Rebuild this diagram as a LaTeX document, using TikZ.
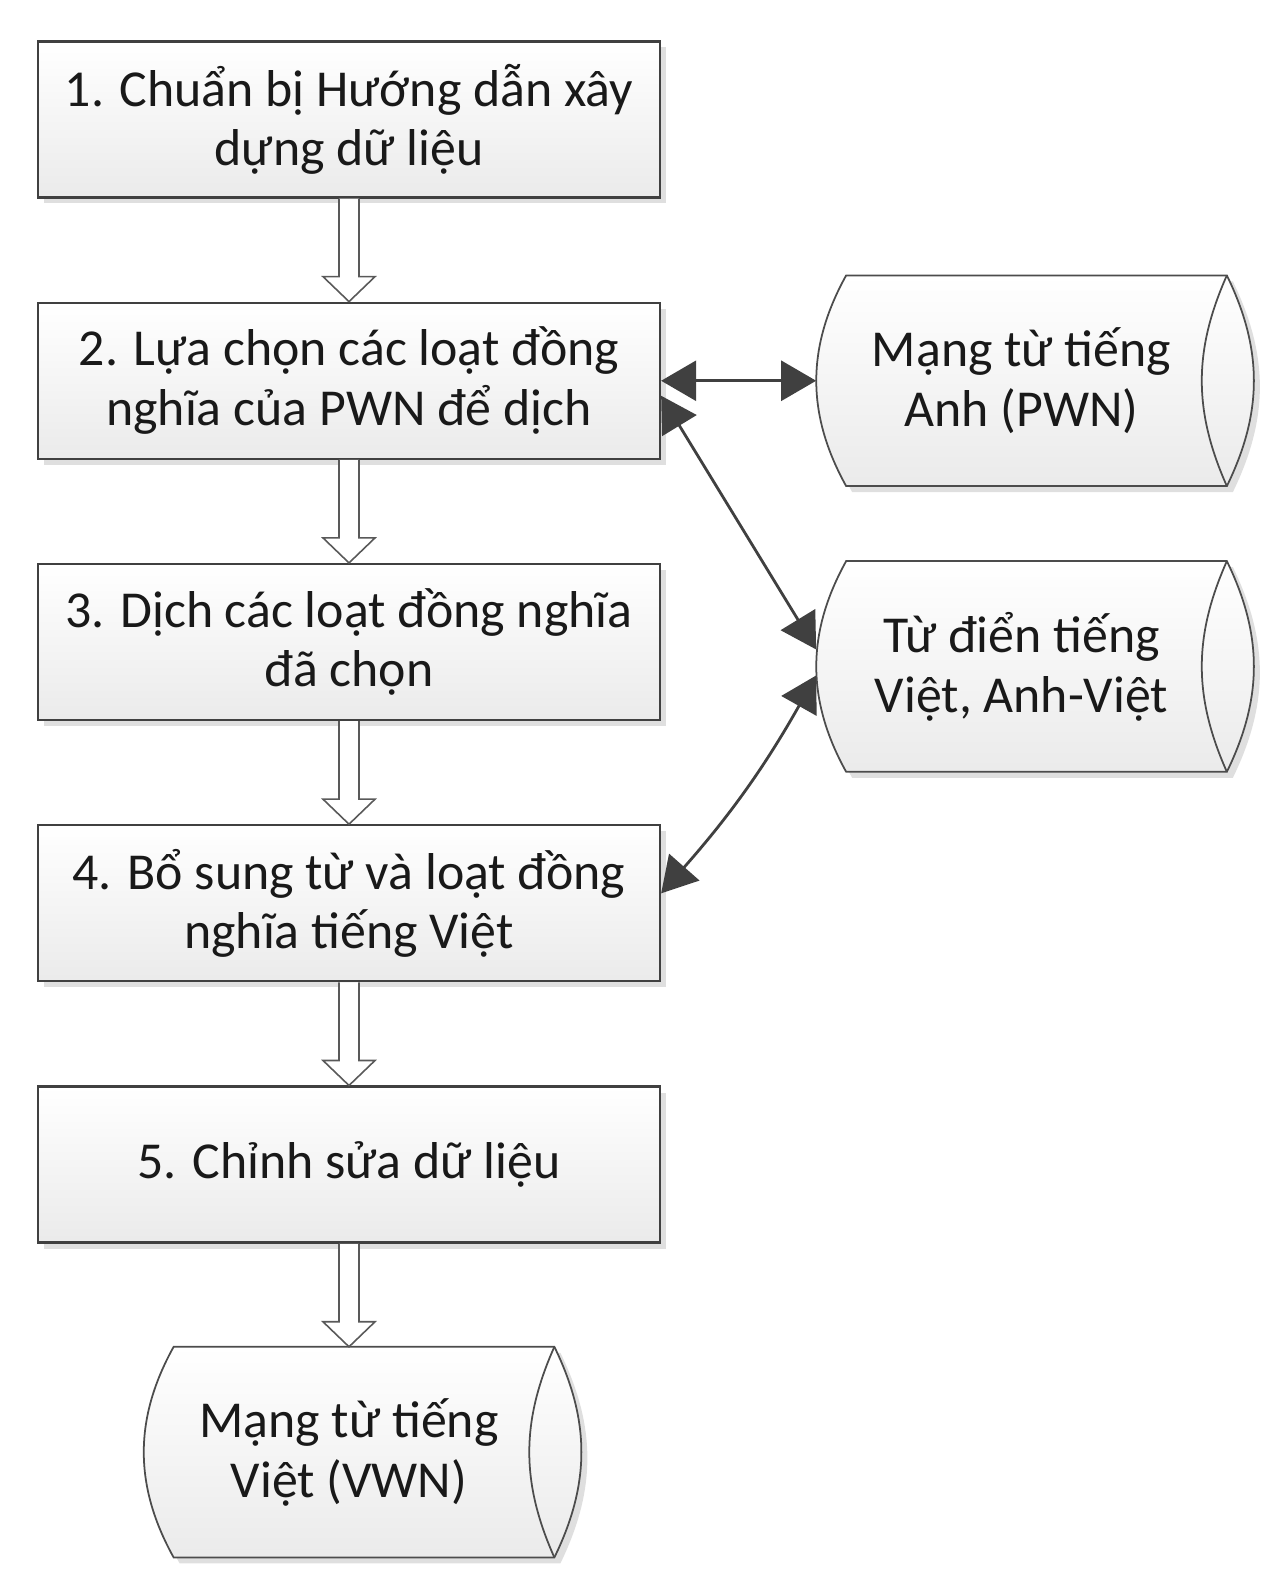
\documentclass[tikz,border=0pt]{standalone}
\usepackage{fontspec}
\setmainfont{Carlito}
\usetikzlibrary{positioning,shadows,arrows.meta,calc,backgrounds}

\tikzset{
  stepbox/.style={draw=black!75, line width=1.3pt,
    top color=white, bottom color=black!8,
    minimum width=12.44cm, minimum height=3.12cm,
    align=center, text=black!90,
    font=\fontsize{29.5}{34}\selectfont,
    drop shadow={shadow xshift=0.12cm, shadow yshift=-0.12cm,
                 fill=black!25, opacity=0.5}},
  store/.style={minimum width=8.2cm, minimum height=4.2cm,
    align=center, text=black!90,
    font=\fontsize{29.5}{34}\selectfont},
  storeline/.style={draw=black!70, line width=1pt},
  hollow/.style={draw=black!65, line width=0.9pt, fill=white},
  link/.style={draw=black!75, line width=1.6pt,
    {Triangle[length=0.7cm,width=0.8cm]}-{Triangle[length=0.7cm,width=0.8cm]}}
}

% hollow block arrow between two steps
\newcommand{\flowarrow}[2]{%
  \draw[hollow] let \p1=(#1.south), \p2=(#2.north) in
    (\x1-0.2cm,\y1) -- (\x1-0.2cm,\y2+0.5cm) -- (\x1-0.52cm,\y2+0.5cm)
    -- (\x1,\y2) -- (\x1+0.52cm,\y2+0.5cm) -- (\x1+0.2cm,\y2+0.5cm)
    -- (\x1+0.2cm,\y1);}

% stored data outline round a store node
\newcommand{\storage}[1]{%
  \begin{scope}[on background layer]
    \draw[storeline, top color=white, bottom color=black!8,
          drop shadow={shadow xshift=0.12cm, shadow yshift=-0.12cm,
                       fill=black!25, opacity=0.5}]
      ([xshift=0.6cm]#1.north west) to[bend right=29] ([xshift=0.6cm]#1.south west)
      -- (#1.south east) to[bend right=26] (#1.north east) -- cycle;
    \draw[storeline] (#1.north east) to[bend right=24] (#1.south east);
  \end{scope}}

\begin{document}
\begin{tikzpicture}
  \useasboundingbox (0,0) rectangle (25.56,31.56);

  % steps
  \node[stepbox] (b1) at (6.98,29.17) {1. Chuẩn bị Hướng dẫn xây\\dựng dữ liệu};
  \node[stepbox, below=2.06cm of b1] (b2) {2. Lựa chọn các loạt đồng\\nghĩa của PWN để dịch};
  \node[stepbox, below=2.06cm of b2] (b3) {3. Dịch các loạt đồng nghĩa\\đã chọn};
  \node[stepbox, below=2.06cm of b3] (b4) {4. Bổ sung từ và loạt đồng\\nghĩa tiếng Việt};
  \node[stepbox, below=2.06cm of b4] (b5) {5. Chỉnh sửa dữ liệu};

  % data stores
  \node[store, right=3.1cm of b2] (pwn) {Mạng từ tiếng\\Anh (PWN)};
  \node[store, below=1.5cm of pwn] (dict) {Từ điển tiếng\\Việt, Anh-Việt};
  \node[store, below=2.06cm of b5] (vwn) {Mạng từ tiếng\\Việt (VWN)};
  \storage{pwn}
  \storage{dict}
  \storage{vwn}

  % flow
  \foreach \a/\b in {b1/b2,b2/b3,b3/b4,b4/b5,b5/vwn}
    \flowarrow{\a}{\b};

  % lookups
  \draw[link] (b2.east) -- (pwn.west);
  \draw[link] ([yshift=-0.3cm]b2.east) -- ([yshift=0.34cm]dict.west);
  \draw[link] ([yshift=0.2cm]b4.east) to[bend right=6] ([yshift=-0.18cm]dict.west);
\end{tikzpicture}
\end{document}
